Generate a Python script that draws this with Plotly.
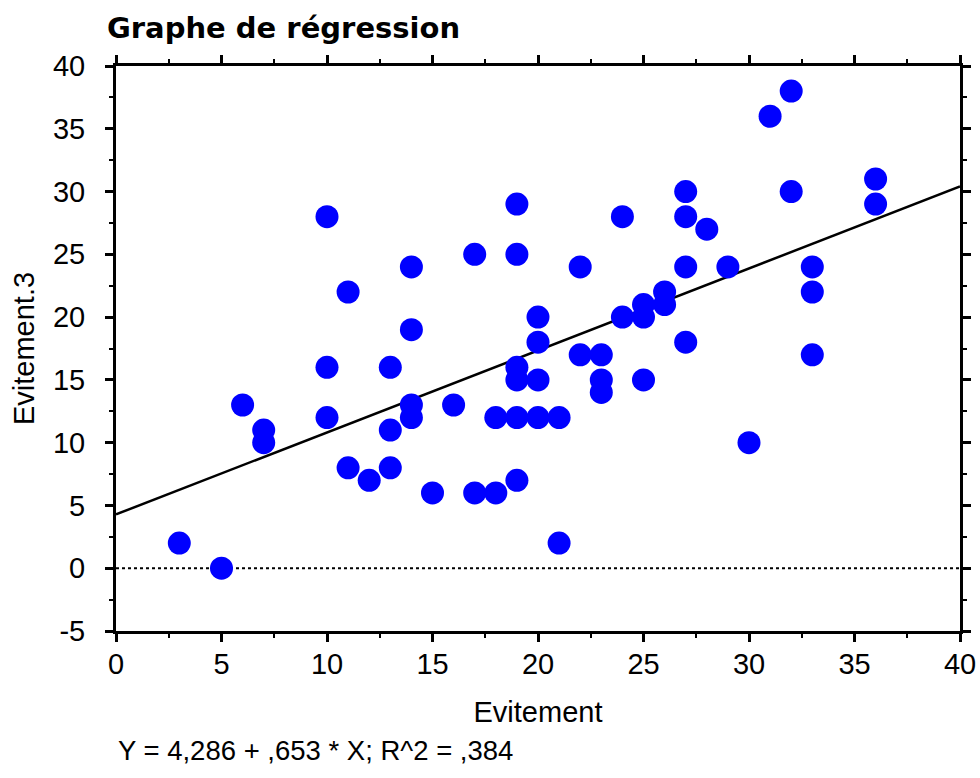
import plotly.graph_objects as go

evitement = [3, 5, 6, 7, 7, 10, 10, 10, 11, 11, 12, 13, 13, 13, 14, 14, 14, 14, 15, 16,
             17, 17, 18, 18, 19, 19, 19, 19, 19, 19, 20, 20, 20, 20, 21, 21, 22, 22, 23, 23,
             23, 24, 24, 25, 25, 25, 26, 26, 27, 27, 27, 27, 28, 29, 30, 31, 32, 32, 33, 33,
             33, 36, 36]
evitement3 = [2, 0, 13, 11, 10, 28, 16, 12, 22, 8, 7, 16, 11, 8, 24, 19, 13, 12, 6, 13,
              25, 6, 12, 6, 29, 25, 16, 15, 12, 7, 20, 18, 15, 12, 12, 2, 24, 17, 17, 15,
              14, 28, 20, 21, 20, 15, 22, 21, 30, 28, 24, 18, 27, 24, 10, 36, 38, 30, 24, 22,
              17, 31, 29]

intercept = 4.286
slope = 0.653
x_range = [0, 40]
y_range = [-5, 40]
x_tickvals = [0, 5, 10, 15, 20, 25, 30, 35, 40]
x_ticktext = ["0", "5", "10", "15", "20", "25", "30", "35", "40"]
y_tickvals = [-5, 0, 5, 10, 15, 20, 25, 30, 35, 40]
y_ticktext = ["-5", "0", "5", "10", "15", "20", "25", "30", "35", "40"]

line_x = x_range
line_y = [intercept + slope * v for v in line_x]

fig = go.Figure()
fig.add_trace(go.Scatter(x=x_range, y=[0, 0], mode="lines",
                         line=dict(color="black", width=2, dash="dot"),
                         hoverinfo="skip", showlegend=False))
fig.add_trace(go.Scatter(x=line_x, y=line_y, mode="lines",
                         line=dict(color="black", width=2.5),
                         showlegend=False))
fig.add_trace(go.Scatter(x=evitement, y=evitement3, mode="markers",
                         marker=dict(color="#0000FF", size=23, line=dict(width=0)),
                         showlegend=False))

font = "Liberation Sans, Arial, sans-serif"
axis_common = dict(
    showgrid=False, zeroline=False, showline=True, linecolor="black", linewidth=3,
    mirror="allticks", ticks="outside", ticklen=8, tickwidth=2.5, tickcolor="black",
    tickfont=dict(family=font, size=29, color="black"), automargin=False,
)

fig.update_layout(
    width=980, height=778,
    margin=dict(l=116, r=20, t=66, b=147),
    paper_bgcolor="white", plot_bgcolor="white",
    title=dict(text="<b>Graphe de régression</b>", x=107/980, xanchor="left",
               xref="container", y=1-28/778, yanchor="middle", yref="container",
               font=dict(family="DejaVu Sans, sans-serif", size=29, color="black"),
               automargin=False),
    xaxis=dict(range=x_range, tickmode="array", tickvals=x_tickvals, ticktext=x_ticktext,
               minor=dict(dtick=2.5, tick0=0, ticks="outside", ticklen=4, tickwidth=2, tickcolor="black"),
               title=dict(text="Evitement", font=dict(family=font, size=29, color="black"), standoff=23),
               ticklabelstandoff=-3,
               **axis_common),
    yaxis=dict(range=y_range, tickmode="array", tickvals=y_tickvals, ticktext=y_ticktext,
               minor=dict(dtick=2.5, tick0=0, ticks="outside", ticklen=4, tickwidth=2, tickcolor="black"),
               title=dict(text="Evitement.3", font=dict(family=font, size=29, color="black"), standoff=10),
               ticklabelstandoff=14,
               **axis_common),
    annotations=[dict(text="Y = 4,286 + ,653 * X; R^2 = ,384", xref="paper", yref="paper",
                      x=0, y=-119/565, xanchor="left", yanchor="middle", showarrow=False,
                      font=dict(family=font, size=27.5, color="black"))],
)

fig.write_html("out.html")
